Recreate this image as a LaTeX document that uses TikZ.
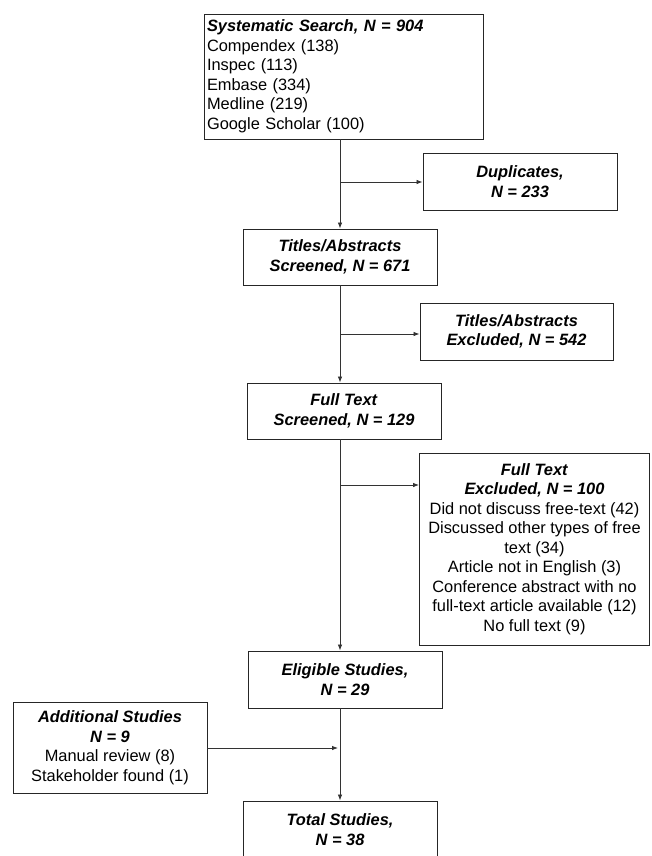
\documentclass[tikz,border=0pt]{standalone}
\usepackage{fontspec}
\setmainfont{Liberation Sans}
\usetikzlibrary{arrows.meta}
\begin{document}
\begin{tikzpicture}[x=1pt,y=1pt,
  box/.style={draw=black!85, line width=0.9pt, inner sep=2pt, align=center,
    font=\fontsize{16.4}{19.5}\selectfont, text=black},
  bi/.style={},
  arr/.style={draw=black!80, line width=0.8pt, -{Latex[length=6pt,width=4.5pt]}},
  ln/.style={draw=black!80, line width=0.8pt}]
\useasboundingbox (0,0) rectangle (651,-856);
\fill[white] (0,0) rectangle (651,-856);
\newcommand{\bis}[1]{\textbf{\textit{#1}}}
\node[box, minimum width=279, minimum height=125, text width=273, align=left] (search) at (343.5,-76.5)
  {\bis{Systematic Search, N = 904}\\Compendex (138)\\Inspec (113)\\Embase (334)\\Medline (219)\\Google Scholar (100)};
\node[box, minimum width=194, minimum height=57] (dup) at (520,-181.5) {\bis{Duplicates,}\\\bis{N = 233}};
\node[box, minimum width=194, minimum height=56] (titles) at (340,-257) {\bis{Titles/Abstracts}\\\bis{Screened, N = 671}};
\node[box, minimum width=193, minimum height=57] (texcl) at (516.5,-331.5) {\bis{Titles/Abstracts}\\\bis{Excluded, N = 542}};
\node[box, minimum width=194, minimum height=56] (full) at (344,-411) {\bis{Full Text}\\\bis{Screened, N = 129}};
\node[box, minimum width=230, minimum height=192] (fexcl) at (534.5,-549)
  {\bis{Full Text}\\\bis{Excluded, N = 100}\\Did not discuss free-text (42)\\Discussed other types of free\\text (34)\\Article not in English (3)\\Conference abstract with no\\full-text article available (12)\\No full text (9)};
\node[box, minimum width=194, minimum height=57] (elig) at (345,-679.5) {\bis{Eligible Studies,}\\\bis{N = 29}};
\node[box, minimum width=194, minimum height=91] (add) at (110,-747.5)
  {\bis{Additional Studies}\\\bis{N = 9}\\Manual review (8)\\Stakeholder found (1)};
\node[box, minimum width=194, minimum height=57] (total) at (340,-829.5) {\bis{Total Studies,}\\\bis{N = 38}};
\coordinate (b1) at (340,-182);
\coordinate (b2) at (340,-334);
\coordinate (b3) at (340,-485);
\coordinate (b4) at (338,-748);
\draw[arr] (titles.north |- search.south) -- (titles.north);
\draw[arr] (titles.south) -- (titles.south |- full.north);
\draw[arr] (titles.south |- full.south) -- (titles.south |- elig.north);
\draw[arr] (total.north |- elig.south) -- (total.north);
\draw[arr] (b1) -- (b1 -| dup.west);
\draw[arr] (b2) -- (b2 -| texcl.west);
\draw[arr] (b3) -- (b3 -| fexcl.west);
\draw[arr] (add.east |- b4) -- (b4);
\end{tikzpicture}
\end{document}
